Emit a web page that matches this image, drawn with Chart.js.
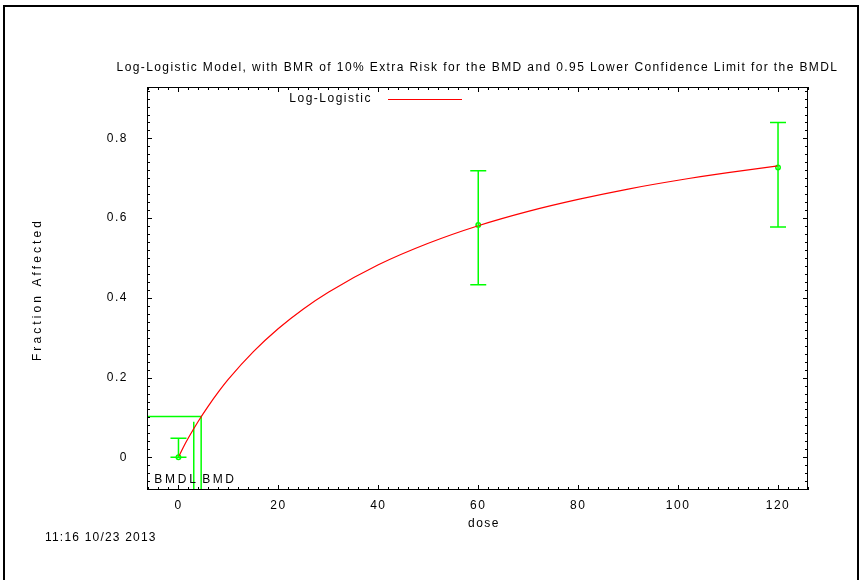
<!DOCTYPE html>
<html>
<head>
<meta charset="utf-8">
<script src="https://cdn.jsdelivr.net/npm/chart.js@4.4.1/dist/chart.umd.min.js"></script>
<style>
  body { margin: 0; background: #fff; }
  #wrap { position: relative; width: 860px; height: 580px; overflow: hidden; }
  #frame { position: absolute; left: 3px; top: 5px; width: 852px; height: 620px; border: 2px solid #000; }
  canvas { position: absolute; left: 0; top: 0; }
</style>
</head>
<body>
<div id="wrap">
  <div id="frame"></div>
  <canvas id="myChart" width="860" height="580"></canvas>
</div>
<script>
const doses = [0, 60, 120];
const fraction = [0, 0.583, 0.727];
const lowerCL = [0, 0.433, 0.578];
const upperCL = [0.048, 0.719, 0.84];

// fitted log-logistic curve
const curveDose = [0, 1, 2, 4, 6, 8, 10, 15, 20, 25, 30, 40, 50, 60, 70, 80, 90, 100, 110, 120];
const curveFit = [0, 0.026, 0.049, 0.091, 0.129, 0.164, 0.196, 0.265, 0.323, 0.372, 0.414, 0.483, 0.537, 0.581, 0.617, 0.647, 0.673, 0.695, 0.714, 0.731];

// benchmark dose lines
const bmr = 0.1025;
const bmd = 4.54;
const bmdl = 3.06;
const bmdlTop = 0.089;

const xTicks = [0, 20, 40, 60, 80, 100, 120];
const yTicks = [0, 0.2, 0.4, 0.6, 0.8];
const xMin = -6.3, xMax = 126;
const yMin = -0.082, yMax = 0.929;

const titleText = 'Log-Logistic Model, with BMR of 10% Extra Risk for the BMD and 0.95 Lower Confidence Limit for the BMDL';
const FONT = '12px "Liberation Sans", Arial, sans-serif';
const GREEN = 'rgb(0,255,0)';

function text(ctx, str, x, y, align, spacing) {
    ctx.save();
    ctx.font = FONT;
    ctx.letterSpacing = spacing + 'px';
    ctx.fillStyle = '#000';
    ctx.textAlign = align;
    ctx.textBaseline = 'middle';
    ctx.fillText(str, x, y);
    ctx.restore();
}

const spacingPlugin = {
    id: 'spacing',
    beforeDraw(chart) {
        chart.ctx.letterSpacing = '1.5px';
    }
};

const extras = {
    id: 'extras',
    afterDatasetsDraw(chart) {
        const ctx = chart.ctx;
        const xs = chart.scales.x, ys = chart.scales.y;
        ctx.save();
        ctx.strokeStyle = GREEN;
        ctx.lineWidth = 1.5;
        doses.forEach((d, i) => {
            const px = xs.getPixelForValue(d);
            const top = ys.getPixelForValue(upperCL[i]);
            const bot = ys.getPixelForValue(lowerCL[i]);
            ctx.beginPath();
            ctx.moveTo(px, top); ctx.lineTo(px, bot);
            ctx.moveTo(px - 8, top); ctx.lineTo(px + 8, top);
            ctx.moveTo(px - 8, bot); ctx.lineTo(px + 8, bot);
            ctx.stroke();
        });
        ctx.restore();
    },
    afterDraw(chart) {
        const ctx = chart.ctx;
        const a = chart.chartArea;
        const xs = chart.scales.x, ys = chart.scales.y;
        ctx.save();
        ctx.strokeStyle = '#000';
        ctx.lineWidth = 1;
        ctx.strokeRect(a.left + 0.5, a.top + 0.5, a.right - a.left - 1, a.bottom - a.top - 1);
        ctx.beginPath();
        // inward ticks on all four sides
        for (let v = -6; v <= xMax; v += 2) {
            const px = Math.round(xs.getPixelForValue(v)) + 0.5;
            const len = v % 20 === 0 ? 5 : 3;
            ctx.moveTo(px, a.bottom); ctx.lineTo(px, a.bottom - len);
            ctx.moveTo(px, a.top); ctx.lineTo(px, a.top + len);
        }
        for (let k = -4; k <= 46; k++) {
            const v = k * 0.02;
            if (v < yMin || v > yMax) continue;
            const py = Math.round(ys.getPixelForValue(v)) + 0.5;
            const len = k % 10 === 0 ? 5 : 3;
            ctx.moveTo(a.left, py); ctx.lineTo(a.left + len, py);
            ctx.moveTo(a.right, py); ctx.lineTo(a.right - len, py);
        }
        ctx.stroke();

        // legend
        ctx.strokeStyle = 'red';
        ctx.beginPath();
        ctx.moveTo(388, 99.5); ctx.lineTo(462, 99.5);
        ctx.stroke();
        ctx.restore();
        text(ctx, 'Log-Logistic', 372, 99, 'right', 1.5);

        text(ctx, titleText, (a.left + a.right) / 2, 68, 'center', 1.4);
        text(ctx, 'dose', 484, 524, 'center', 1.5);
        text(ctx, '11:16 10/23 2013', 45, 538, 'left', 1.2);
        text(ctx, 'BMDL', xs.getPixelForValue(bmdl) + 5, ys.getPixelForValue(-0.057), 'right', 2.8);
        text(ctx, 'BMD', xs.getPixelForValue(bmd) + 1, ys.getPixelForValue(-0.057), 'left', 2.6);

        ctx.save();
        ctx.translate(38, (a.top + a.bottom) / 2 + 1);
        ctx.rotate(-Math.PI / 2);
        text(ctx, 'Fraction Affected', 0, 0, 'center', 3.1);
        ctx.restore();
    }
};

const ctx = document.getElementById('myChart');
new Chart(ctx, {
    type: 'scatter',
    data: {
        datasets: [
            {
                label: 'Log-Logistic',
                type: 'line',
                data: curveDose.map((d, i) => ({ x: d, y: curveFit[i] })),
                borderColor: 'red',
                borderWidth: 1.2,
                pointRadius: 0,
                cubicInterpolationMode: 'monotone'
            },
            {
                label: 'data',
                data: doses.map((d, i) => ({ x: d, y: fraction[i] })),
                borderColor: GREEN,
                backgroundColor: 'rgba(0,0,0,0)',
                borderWidth: 1.5,
                pointRadius: 2.2
            },
            {
                label: 'BMD',
                type: 'line',
                data: [{ x: xMin, y: bmr }, { x: bmd, y: bmr }, { x: bmd, y: yMin }],
                borderColor: GREEN,
                borderWidth: 1.5,
                pointRadius: 0
            },
            {
                label: 'BMDL',
                type: 'line',
                data: [{ x: bmdl, y: bmdlTop }, { x: bmdl, y: yMin }],
                borderColor: GREEN,
                borderWidth: 1.5,
                pointRadius: 0
            }
        ]
    },
    options: {
        responsive: false,
        animation: false,
        layout: { padding: { left: 0, top: 87, right: 52, bottom: 0 } },
        plugins: {
            legend: { display: false },
            title: { display: false },
            tooltip: { enabled: false }
        },
        scales: {
            x: {
                type: 'linear',
                min: xMin,
                max: xMax,
                afterBuildTicks: s => { s.ticks = xTicks.map(v => ({ value: v })); },
                afterFit: s => { s.height = 90; },
                grid: { display: false, drawTicks: false },
                border: { display: false },
                ticks: { color: '#000', font: { family: '"Liberation Sans", Arial, sans-serif', size: 12 }, padding: 8, maxRotation: 0 }
            },
            y: {
                min: yMin,
                max: yMax,
                afterBuildTicks: s => { s.ticks = yTicks.map(v => ({ value: v })); },
                afterFit: s => { s.width = 147; },
                grid: { display: false, drawTicks: false },
                border: { display: false },
                ticks: { color: '#000', font: { family: '"Liberation Sans", Arial, sans-serif', size: 12 }, padding: 19 }
            }
        }
    },
    plugins: [spacingPlugin, extras]
});
</script>
</body>
</html>
